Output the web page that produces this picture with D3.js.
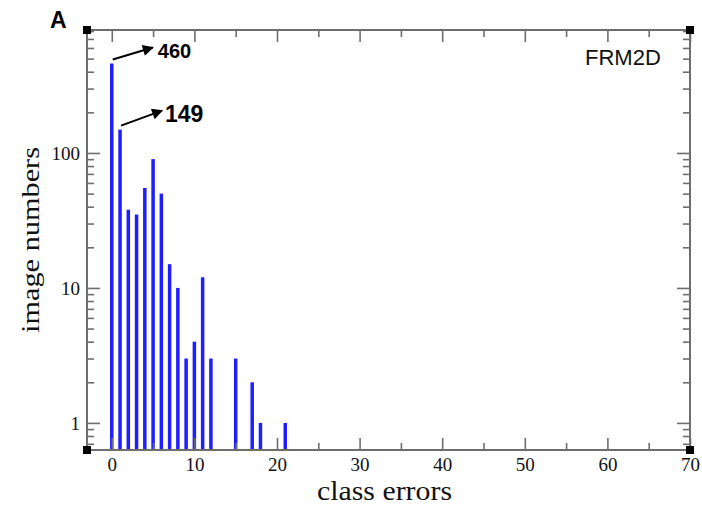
<!DOCTYPE html>
<html>
<head>
<meta charset="utf-8">
<script src="https://cdn.jsdelivr.net/npm/d3@7"></script>
<style>
  body { margin: 0; background: #fff; }
</style>
</head>
<body>
<div id="container"></div>
<script>
// x = how many class errors, y = how many images got that many (log scale)
const classErrors = [0, 1, 2, 3, 4, 5, 6, 7, 8, 9, 10, 11, 12, 15, 17, 18, 21];
const imageNumbers = [460, 149, 38, 35, 55, 90, 50, 15, 10, 3, 4, 12, 3, 3, 2, 1, 1];
// tick labels
const xTicks = [0, 10, 20, 30, 40, 50, 60, 70];
const xMinorTicks = [5, 15, 25, 35, 45, 55, 65];
const yTicks = [1, 10, 100];
// which bars get the little arrow with the number
const calloutErrors = [0, 1];

const W = 702, H = 505;
// the frame, i measured it off the picture ("top" is taken by window so frame*)
const frameLeft = 87, frameRight = 690, frameTop = 30, frameBottom = 450;

const svg = d3.select("#container").append("svg")
  .attr("width", W).attr("height", H)
  .style("font-family", "'Liberation Serif', serif");

const x = d3.scaleLinear().domain([-3, 70]).range([frameLeft, frameRight]);
const y = d3.scaleLog().domain([0.63, 815]).range([frameBottom, frameTop]);

const axisColor = "#6e6e6e";

// arrow head for the callouts
svg.append("defs").append("marker")
  .attr("id", "head")
  .attr("viewBox", "0 0 10 10")
  .attr("refX", 9).attr("refY", 5)
  .attr("markerWidth", 7).attr("markerHeight", 5.5)
  .attr("markerUnits", "strokeWidth")
  .attr("orient", "auto")
  .append("path").attr("d", "M0,0 L10,5 L0,10 z").attr("fill", "#000");

// bars, thin blue sticks going up from the bottom of the frame
svg.append("g").selectAll("rect")
  .data(classErrors)
  .join("rect")
  .attr("x", d => x(d) - 1.75)
  .attr("width", 3.5)
  .attr("y", (d, i) => y(imageNumbers[i]))
  .attr("height", (d, i) => frameBottom - y(imageNumbers[i]))
  .attr("fill", "#1e1eff");

// axes, ticks point inward on all 4 sides
function styleAxis(g) {
  g.select(".domain").remove();
  g.selectAll(".tick line").attr("stroke", axisColor).attr("stroke-width", 1.6);
  g.selectAll(".tick text")
    .attr("fill", "#111")
    .style("font-family", "'Liberation Serif', serif")
    .style("font-size", "19px");
}

svg.append("g").attr("transform", `translate(0,${frameBottom})`)
  .call(d3.axisBottom(x).tickValues(xTicks).tickSize(-12).tickPadding(8).tickFormat(d3.format("d")))
  .call(styleAxis);
svg.append("g").attr("transform", `translate(0,${frameBottom})`)
  .call(d3.axisBottom(x).tickValues(xMinorTicks).tickSize(-7).tickFormat(""))
  .call(styleAxis);
svg.append("g").attr("transform", `translate(0,${frameTop})`)
  .call(d3.axisTop(x).tickValues(xTicks).tickSize(-12).tickFormat(""))
  .call(styleAxis);
svg.append("g").attr("transform", `translate(0,${frameTop})`)
  .call(d3.axisTop(x).tickValues(xMinorTicks).tickSize(-7).tickFormat(""))
  .call(styleAxis);

// log minor ticks = whatever d3 gives that is not a decade
const yMinor = y.ticks().filter(t => !yTicks.includes(t));

svg.append("g").attr("transform", `translate(${frameLeft},0)`)
  .call(d3.axisLeft(y).tickValues(yTicks).tickSize(-13).tickPadding(7).tickFormat(d3.format("d")))
  .call(styleAxis);
svg.append("g").attr("transform", `translate(${frameLeft},0)`)
  .call(d3.axisLeft(y).tickValues(yMinor).tickSize(-7).tickFormat(""))
  .call(styleAxis);
svg.append("g").attr("transform", `translate(${frameRight},0)`)
  .call(d3.axisRight(y).tickValues(yTicks).tickSize(-13).tickFormat(""))
  .call(styleAxis);
svg.append("g").attr("transform", `translate(${frameRight},0)`)
  .call(d3.axisRight(y).tickValues(yMinor).tickSize(-7).tickFormat(""))
  .call(styleAxis);

// the frame itself
svg.append("rect")
  .attr("x", frameLeft).attr("y", frameTop)
  .attr("width", frameRight - frameLeft).attr("height", frameBottom - frameTop)
  .attr("fill", "none").attr("stroke", axisColor).attr("stroke-width", 2);

// black squares on the corners, xmgrace style
svg.append("g").selectAll("rect")
  .data([[frameLeft, frameTop], [frameRight, frameTop], [frameLeft, frameBottom], [frameRight, frameBottom]])
  .join("rect")
  .attr("x", d => d[0] - 4).attr("y", d => d[1] - 4)
  .attr("width", 8).attr("height", 8)
  .attr("fill", "#000");

// callouts: arrow from the bar top going up-right, then the value
// [arrow dx, arrow dy, text dx, text dy, font size]
const arrowOffsets = [[40, -12, 5, 10, 20], [41, -15, 3, 11, 23]];
calloutErrors.forEach((ce, k) => {
  const i = classErrors.indexOf(ce);
  const x0 = x(ce) + 1, y0 = y(imageNumbers[i]) - 4;
  const o = arrowOffsets[k];
  svg.append("line")
    .attr("x1", x0).attr("y1", y0)
    .attr("x2", x0 + o[0]).attr("y2", y0 + o[1])
    .attr("stroke", "#000").attr("stroke-width", 2)
    .attr("marker-end", "url(#head)");
  svg.append("text")
    .attr("x", x0 + o[0] + o[2]).attr("y", y0 + o[1] + o[3])
    .style("font-family", "'Liberation Sans', Arial, sans-serif")
    .style("font-weight", "bold")
    .style("font-size", o[4] + "px")
    .attr("fill", "#000")
    .text(imageNumbers[i]);
});

// titles
svg.append("text")
  .attr("x", (frameLeft + frameRight) / 2 - 4).attr("y", 500)
  .attr("text-anchor", "middle")
  .attr("textLength", 135).attr("lengthAdjust", "spacingAndGlyphs")
  .style("font-size", "27px").attr("fill", "#111")
  .text("class errors");

svg.append("text")
  .attr("transform", `translate(39,${(frameTop + frameBottom) / 2}) rotate(-90)`)
  .attr("text-anchor", "middle")
  .attr("textLength", 186).attr("lengthAdjust", "spacingAndGlyphs")
  .style("font-size", "26px").attr("fill", "#111")
  .text("image numbers");

svg.append("text")
  .attr("x", 50).attr("y", 28)
  .style("font-family", "'Liberation Sans', Arial, sans-serif")
  .style("font-weight", "bold").style("font-size", "23px")
  .text("A");

svg.append("text")
  .attr("x", 585).attr("y", 65)
  .style("font-family", "'Liberation Sans', Arial, sans-serif")
  .style("font-size", "22px").attr("fill", "#111")
  .text("FRM2D");
</script>
</body>
</html>
